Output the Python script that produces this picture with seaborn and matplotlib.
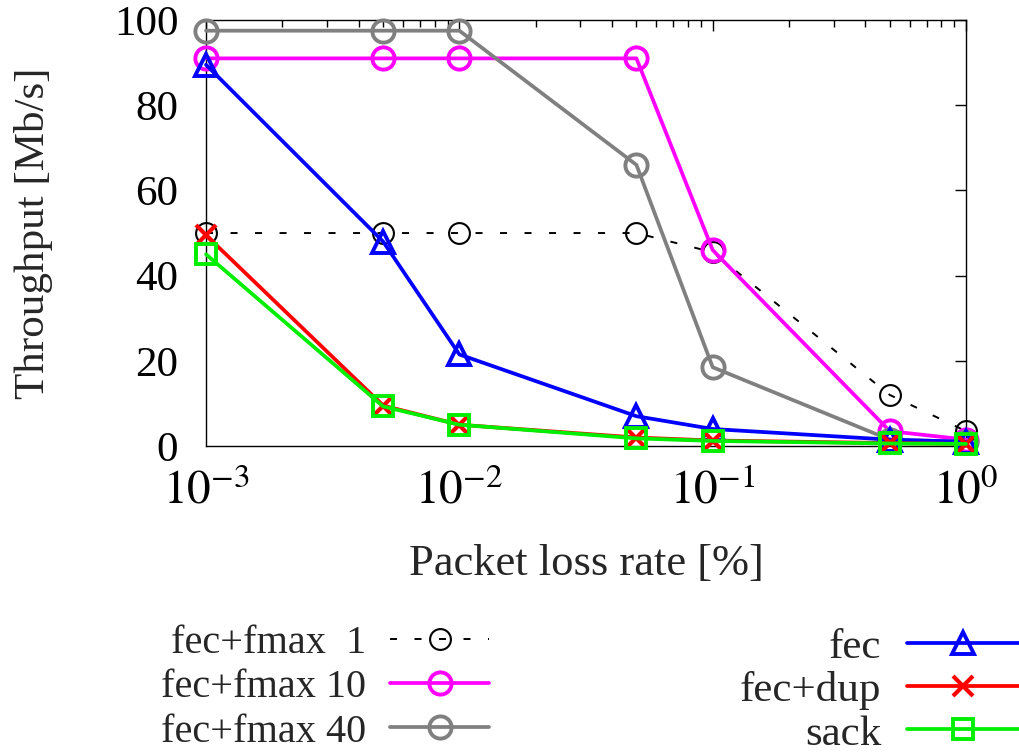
import numpy as np
import pandas as pd
import matplotlib
matplotlib.use("Agg")
import matplotlib.pyplot as plt
from matplotlib.lines import Line2D
from matplotlib.ticker import FixedLocator, LogLocator, NullFormatter
import seaborn as sns

# Packet loss rates [%]
loss_rate = [0.001, 0.005, 0.01, 0.05, 0.1, 0.5, 1.0]

# Throughput [Mb/s] per scheme
fmax1 = [50.0, 50.0, 50.0, 50.0, 45.5, 12.0, 3.5]
fmax10 = [91.0, 91.0, 91.0, 91.0, 46.0, 3.5, 1.5]
fmax40 = [97.5, 97.5, 97.5, 66.0, 18.5, 1.5, 1.0]
fec = [89.5, 48.0, 21.5, 7.0, 4.0, 1.5, 1.0]
fec_dup = [49.5, 9.5, 5.0, 2.0, 1.3, 0.7, 0.5]
sack = [45.0, 9.3, 5.0, 1.8, 1.2, 0.6, 0.5]

labels = ["fec+fmax  1", "fec+fmax 10", "fec+fmax 40", "fec", "fec+dup", "sack"]
x_ticks = [0.001, 0.01, 0.1, 1.0]
x_ticklabels = [r"$10^{-3}$", r"$10^{-2}$", r"$10^{-1}$", r"$10^{0}$"]
y_ticks = [0, 20, 40, 60, 80, 100]

sns.set_style("white")
plt.rcParams["font.family"] = ["Liberation Serif", "DejaVu Serif"]
plt.rcParams["mathtext.fontset"] = "stix"

FS = 31

styles = [
    dict(color="black", marker="o", lw=1.4, dashes=(3.6, 9), ms=15, mew=1.5),
    dict(color="#ff00ff", marker="o", lw=2.7, ms=16, mew=2.8),
    dict(color="#808080", marker="o", lw=2.7, ms=16, mew=2.8),
    dict(color="#0000ff", marker="^", lw=2.7, ms=16, mew=2.8),
    dict(color="#ff0000", marker="x", lw=2.7, ms=15, mew=3.0),
    dict(color="#00ee00", marker="s", lw=2.7, ms=14, mew=2.8),
]
series = [fmax1, fmax10, fmax40, fec, fec_dup, sack]

fig = plt.figure(figsize=(10.19, 7.56), dpi=100)
ax = fig.add_axes([0.2022, 0.410, 0.7458, 0.5635])

handles = []
for ys, st, lab in zip(series, styles, labels):
    kw = dict(color=st["color"], marker=st["marker"], linewidth=st["lw"],
              markersize=st["ms"], markeredgewidth=st["mew"],
              markerfacecolor="none", markeredgecolor=st["color"])
    if "dashes" in st:
        kw["dashes"] = st["dashes"]
    sns.lineplot(x=loss_rate, y=ys, ax=ax, legend=False, errorbar=None,
                 clip_on=False, zorder=3, **kw)
    handles.append(Line2D([], [], label=lab, **kw))

ax.set_xscale("log")
ax.set_xlim(0.001, 1.0)
ax.set_ylim(0, 100)
ax.xaxis.set_major_locator(FixedLocator(x_ticks))
ax.set_xticklabels(x_ticklabels)
ax.xaxis.set_minor_locator(LogLocator(base=10, subs=np.arange(2, 10)))
ax.xaxis.set_minor_formatter(NullFormatter())
ax.set_yticks(y_ticks)

for sp in ax.spines.values():
    sp.set_visible(True)
    sp.set_color("black")
    sp.set_linewidth(1.0)

ax.tick_params(axis="both", which="both", direction="in", top=True, right=True,
               colors="black")
ax.tick_params(axis="both", which="major", length=8, width=1.0)
ax.tick_params(axis="x", which="minor", length=5, width=1.0)
ax.tick_params(axis="y", which="major", labelsize=FS, pad=20)
ax.tick_params(axis="x", which="major", labelsize=34, pad=17)

ax.set_xlabel("Packet loss rate [%]", fontsize=32, labelpad=22)
ax.set_ylabel("Throughput [Mb/s]", fontsize=31, labelpad=44)

common = dict(frameon=False, markerfirst=False, handletextpad=0.6,
              borderpad=0.0, borderaxespad=0.0, loc="upper right")
leg1 = fig.legend(handles=handles[:3], bbox_to_anchor=(0.480, 0.174),
                  fontsize=29, handlelength=2.45, labelspacing=0.18, **common)
leg2 = fig.legend(handles=handles[3:], bbox_to_anchor=(1.0, 0.170),
                  fontsize=31, handlelength=2.6, labelspacing=0.1, **common)

fig.savefig("out.png", dpi=100)
